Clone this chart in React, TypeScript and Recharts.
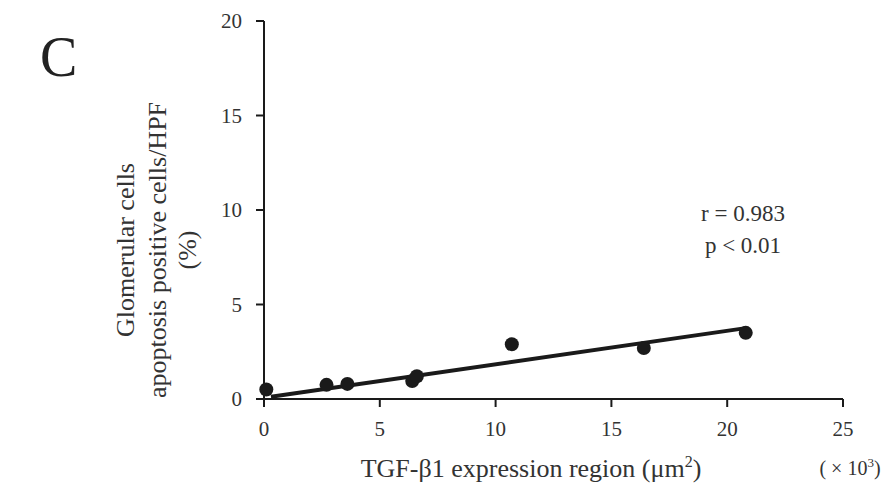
import { ScatterChart, Scatter, XAxis, YAxis } from "recharts";

const xTicks = [0, 5, 10, 15, 20, 25];
const yTicks = [0, 5, 10, 15, 20];

// TGF-β1 region (×10³ µm²) vs apoptosis positive cells (%)
const tgfRegion = [0.1, 2.7, 3.6, 6.4, 6.6, 10.7, 16.4, 20.8];
const apoptosis = [0.5, 0.75, 0.8, 0.95, 1.2, 2.9, 2.7, 3.5];

const fitX = [0.3, 20.8];
const fitY = [0.12, 3.75];

const points = tgfRegion.map((x, i) => ({ x, y: apoptosis[i] }));
const fitLine = fitX.map((x, i) => ({ x, y: fitY[i] }));

const INK = "#1a1a1a";
const FONT = "'Liberation Serif', 'DejaVu Serif', serif";

const Dot = (props: any) => <circle cx={props.cx} cy={props.cy} r={7} fill={INK} />;

export default function App() {
  return (
    <div style={{ position: "absolute", left: 0, top: 0, width: 888, height: 502, background: "#fff", fontFamily: FONT }}>
      <ScatterChart width={888} height={502} margin={{ top: 21, right: 45, bottom: 0, left: 0 }}>
        <XAxis
          type="number"
          dataKey="x"
          domain={[0, 25]}
          ticks={xTicks}
          height={103}
          stroke={INK}
          strokeWidth={2}
          tickSize={8}
          tickMargin={14}
          tick={{ fill: "#333", fontSize: 21, fontFamily: FONT }}
        />
        <YAxis
          type="number"
          dataKey="y"
          domain={[0, 20]}
          ticks={yTicks}
          width={264}
          stroke={INK}
          strokeWidth={2}
          tickSize={8}
          tickMargin={14}
          tick={{ fill: "#333", fontSize: 21, fontFamily: FONT }}
        />
        <Scatter data={fitLine} line={{ stroke: INK, strokeWidth: 4 }} shape={() => null} isAnimationActive={false} />
        <Scatter data={points} shape={Dot} isAnimationActive={false} />
      </ScatterChart>
      <svg width={888} height={502} style={{ position: "absolute", left: 0, top: 0, pointerEvents: "none" }}>
        <text x={40} y={76} fontSize={56} fill="#222" fontFamily={FONT}>C</text>
        <g transform="translate(0,250) rotate(-90)" fill="#333" fontSize={26} fontFamily={FONT} textAnchor="middle">
          <text x={0} y={134}>Glomerular cells</text>
          <text x={0} y={166}>apoptosis positive cells/HPF</text>
          <text x={0} y={196}>(%)</text>
        </g>
        <text x={743} y={221} fontSize={23} fill="#333" fontFamily={FONT} textAnchor="middle">r = 0.983</text>
        <text x={743} y={253} fontSize={23} fill="#333" fontFamily={FONT} textAnchor="middle">p &lt; 0.01</text>
        <text x={531} y={477} fontSize={26} fill="#333" fontFamily={FONT} textAnchor="middle">
          TGF-β1 expression region (μm<tspan fontSize={16} dy={-10}>2</tspan><tspan dy={10}>)</tspan>
        </text>
        <text x={850} y={475} fontSize={20} fill="#333" fontFamily={FONT} textAnchor="middle">
          ( × 10<tspan fontSize={13} dy={-8}>3</tspan><tspan dy={8}>)</tspan>
        </text>
      </svg>
    </div>
  );
}
